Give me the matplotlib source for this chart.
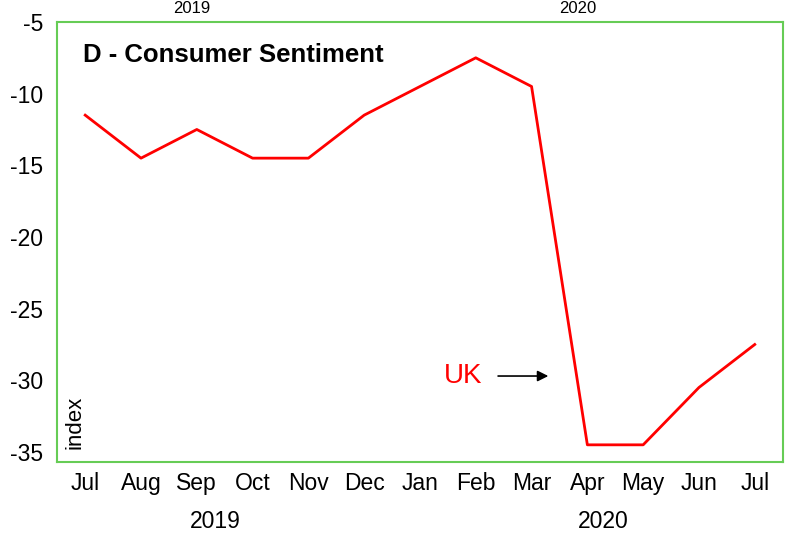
import matplotlib.pyplot as plt

plt.rcParams['font.family'] = ['Liberation Sans', 'DejaVu Sans']

# data
months = ['Jul', 'Aug', 'Sep', 'Oct', 'Nov', 'Dec', 'Jan', 'Feb', 'Mar', 'Apr', 'May', 'Jun', 'Jul']
uk = [-11.5, -14.5, -12.5, -14.5, -14.5, -11.5, -9.5, -7.5, -9.5, -34.5, -34.5, -30.5, -27.5]
yticks = [-35, -30, -25, -20, -15, -10, -5]

fig = plt.figure(figsize=(7.85, 5.36), dpi=100)
ax = fig.add_axes([0.073, 0.138, 0.924, 0.821])

x = list(range(len(months)))
ax.plot(x, uk, color='#ff0000', linewidth=2)

ax.set_xlim(-0.5, 12.5)
ax.set_ylim(-35.7, -5.1)
ax.set_yticks(yticks)
ax.set_yticklabels([str(v) for v in yticks])
ax.set_xticks(x)
ax.set_xticklabels(months)
ax.tick_params(length=0, labelsize=16.5, pad=7)
ax.tick_params(axis='y', pad=10)

for s in ax.spines.values():
    s.set_color('#66cc55')
    s.set_linewidth(1.5)

# title and labels
ax.text(0.036, 0.925, 'D - Consumer Sentiment', transform=ax.transAxes,
        fontsize=18.5, fontweight='bold', va='center', ha='left')
ax.text(0.025, 0.03, 'index', transform=ax.transAxes, rotation=90,
        fontsize=16, va='bottom', ha='center')
ax.text(7.12, -29.7, 'UK', color='#ff0000', fontsize=20, ha='right', va='center')
ax.annotate('', xy=(8.35, -29.7), xytext=(7.35, -29.7),
            arrowprops=dict(arrowstyle='-|>', color='black', lw=1.2, mutation_scale=16))

# year labels
fig.text(215 / 785, 1 - 521 / 536, '2019', fontsize=16.5, ha='center', va='center')
fig.text(603 / 785, 1 - 521 / 536, '2020', fontsize=16.5, ha='center', va='center')
fig.text(192 / 785, 0.998, '2019', fontsize=12, ha='center', va='top')
fig.text(578 / 785, 0.998, '2020', fontsize=12, ha='center', va='top')

fig.savefig('out.png', dpi=100)
